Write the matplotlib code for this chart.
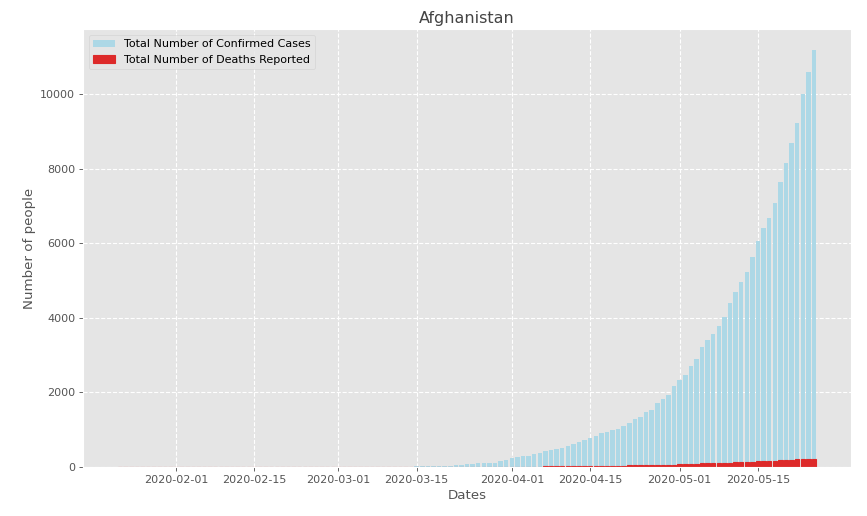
import numpy as np
import pandas as pd
import matplotlib
matplotlib.use("Agg")
import matplotlib.pyplot as plt

plt.style.use("ggplot")

# Afghanistan, cumulative counts per day
start_date = "2020-01-22"
end_date = "2020-05-25"

# zeros up to 2020-02-23
confirmed_early = [0] * 33
confirmed = confirmed_early + [
    1, 1, 1, 1, 1, 1, 1, 1, 1, 1, 1, 1, 1,          # 02-24 .. 03-07
    4, 4, 5, 7, 7, 7, 11, 16, 21, 22, 22, 22,       # 03-08 .. 03-19
    24, 24, 40, 40, 74, 84, 94, 110, 110, 120, 170, 174,   # 03-20 .. 03-31
    237, 273, 281, 299, 349, 367, 423, 444, 484, 521,      # 04-01 .. 04-10
    555, 607, 665, 714, 784, 840, 906, 933, 996, 1026,     # 04-11 .. 04-20
    1092, 1176, 1279, 1351, 1463, 1531, 1703, 1828, 1939, 2171,  # 04-21 .. 04-30
    2335, 2469, 2704, 2894, 3224, 3392, 3563, 3778, 4033, 4402,  # 05-01 .. 05-10
    4687, 4963, 5226, 5639, 6053, 6402, 6664, 7072, 7653, 8145,  # 05-11 .. 05-20
    8676, 9216, 9998, 10582, 11173,                         # 05-21 .. 05-25
]

# zeros up to 2020-03-21
deaths_early = [0] * 60
deaths = deaths_early + [
    1, 1, 1, 2, 4, 4, 4, 4, 4, 4,                   # 03-22 .. 03-31
    4, 6, 6, 7, 7, 11, 14, 14, 15, 15,              # 04-01 .. 04-10
    18, 18, 21, 23, 25, 30, 30, 30, 33, 36,         # 04-11 .. 04-20
    36, 40, 42, 43, 47, 50, 57, 58, 60, 64,         # 04-21 .. 04-30
    68, 72, 85, 90, 95, 104, 106, 109, 115, 120,    # 05-01 .. 05-10
    122, 127, 132, 136, 153, 168, 169, 173, 178, 187,  # 05-11 .. 05-20
    193, 205, 216, 218, 219,                        # 05-21 .. 05-25
]

dates = pd.date_range(start_date, end_date, freq="D")

fig = plt.figure(figsize=(867 / 80, 516 / 80), dpi=80)
ax = fig.add_axes([0.0957, 0.095, 0.886, 0.848])

ax.bar(dates, confirmed, color="lightblue", label="Total Number of Confirmed Cases")
ax.bar(dates, deaths, color="#dd2a2a", edgecolor="#dd2a2a", linewidth=1,
       label="Total Number of Deaths Reported")

ax.grid(True, color="white", linestyle="--", linewidth=1)
ax.set_title("Afghanistan", color="#444444")
ax.set_xlabel("Dates")
ax.set_ylabel("Number of people")
ax.set_xticks(pd.to_datetime(["2020-02-01", "2020-02-15", "2020-03-01",
                              "2020-03-15", "2020-04-01", "2020-04-15",
                              "2020-05-01", "2020-05-15"]))
ax.xaxis.set_major_formatter(matplotlib.dates.DateFormatter("%Y-%m-%d"))
ax.legend(loc="upper left")

fig.savefig("out.png", dpi=80)
